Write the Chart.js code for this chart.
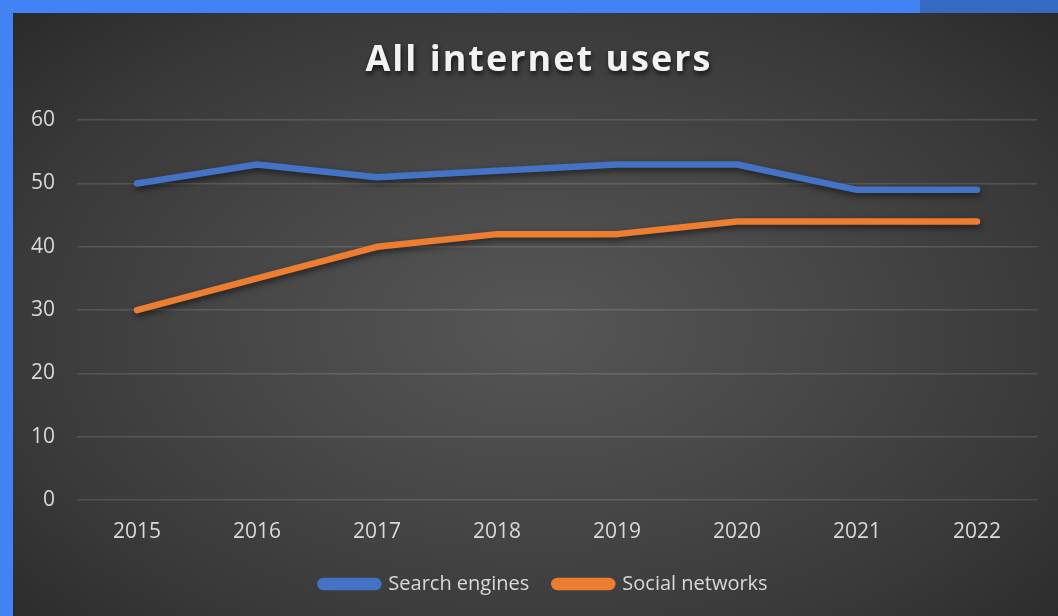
<!DOCTYPE html>
<html>
<head>
<meta charset="utf-8">
<script src="https://cdn.jsdelivr.net/npm/chart.js@4"></script>
<style>
  html, body { margin: 0; padding: 0; }
  body { width: 1058px; height: 616px; background: #4183F2; position: relative; overflow: hidden; }
  #corner { position: absolute; left: 920px; top: 0; width: 138px; height: 13px; background: #356AC2; }
  #panel {
    position: absolute; left: 13px; top: 13px; width: 1045px; height: 603px;
    background: radial-gradient(ellipse 75% 80% at 50% 52%, #565656 0%, #484848 35%, #383838 70%, #262626 100%);
  }
  #panel canvas { position: absolute; left: 0; top: 0; }
</style>
</head>
<body>
<div id="corner"></div>
<div id="panel"><canvas id="chart" width="1045" height="603"></canvas></div>
<script>
const years = ['2015', '2016', '2017', '2018', '2019', '2020', '2021', '2022'];
const searchEngines = [50, 53, 51, 52, 53, 53, 49, 49];
const socialNetworks = [30, 35, 40, 42, 42, 44, 44, 44];
const yTicks = [0, 10, 20, 30, 40, 50, 60];

const textColor = '#D9D9D9';
const fontFamily = "'Open Sans', 'Noto Sans', sans-serif";

// soft drop shadow under each series line
const lineShadow = {
  id: 'lineShadow',
  beforeDatasetDraw(chart) {
    const ctx = chart.ctx;
    ctx.save();
    ctx.shadowColor = 'rgba(0,0,0,0.55)';
    ctx.shadowBlur = 6;
    ctx.shadowOffsetX = 1;
    ctx.shadowOffsetY = 3;
  },
  afterDatasetDraw(chart) {
    chart.ctx.restore();
  }
};

// spaced-out title with a shadow behind the letters; legend nudged to sit centred under the plot
const boxStyle = {
  id: 'boxStyle',
  afterInit(chart) {
    const block = chart.titleBlock;
    if (block && !block._styled) {
      const orig = block.draw.bind(block);
      block.draw = function () {
        const ctx = chart.ctx;
        ctx.save();
        ctx.translate(14, 0);
        ctx.letterSpacing = '2px';
        ctx.shadowColor = 'rgba(0,0,0,0.7)';
        ctx.shadowBlur = 5;
        ctx.shadowOffsetX = 1;
        ctx.shadowOffsetY = 3;
        orig();
        ctx.restore();
      };
      block._styled = true;
    }
    const legend = chart.legend;
    if (legend && !legend._styled) {
      const origLegend = legend.draw.bind(legend);
      legend.draw = function () {
        const ctx = chart.ctx;
        ctx.save();
        ctx.translate(19, 0);
        origLegend();
        ctx.restore();
      };
      legend._styled = true;
    }
  }
};

new Chart(document.getElementById('chart'), {
  type: 'line',
  data: {
    labels: years,
    datasets: [
      {
        label: 'Search engines',
        data: searchEngines,
        borderColor: '#4472C4',
        backgroundColor: '#4472C4',
        borderWidth: 6.5,
        borderCapStyle: 'round',
        borderJoinStyle: 'round',
        pointRadius: 0,
        tension: 0
      },
      {
        label: 'Social networks',
        data: socialNetworks,
        borderColor: '#ED7D31',
        backgroundColor: '#ED7D31',
        borderWidth: 6.5,
        borderCapStyle: 'round',
        borderJoinStyle: 'round',
        pointRadius: 0,
        tension: 0
      }
    ]
  },
  options: {
    responsive: false,
    animation: false,
    layout: { padding: { left: 0, right: 21, top: 26, bottom: 12 } },
    plugins: {
      title: {
        display: true,
        text: 'All internet users',
        color: '#F2F2F2',
        font: { family: fontFamily, size: 36, weight: 'bold' },
        padding: { top: 0, bottom: 38 }
      },
      legend: {
        position: 'bottom',
        labels: {
          color: textColor,
          font: { family: fontFamily, size: 20 },
          boxWidth: 58,
          boxHeight: 6,
          useBorderRadius: true,
          borderRadius: 3,
          padding: 25
        }
      },
      tooltip: { enabled: false }
    },
    scales: {
      x: {
        offset: true,
        afterFit(scale) { scale.height = 49; },
        grid: { display: false, drawTicks: false },
        border: { display: false },
        ticks: { color: textColor, font: { family: fontFamily, size: 21 }, padding: 19 }
      },
      y: {
        min: 0,
        max: 60,
        afterBuildTicks(scale) { scale.ticks = yTicks.map(v => ({ value: v })); },
        afterFit(scale) { scale.width = 64; },
        grid: { color: 'rgba(255,255,255,0.13)', lineWidth: 1.5, drawTicks: false },
        border: { display: false },
        ticks: { color: textColor, font: { family: fontFamily, size: 21 }, padding: 22 }
      }
    }
  },
  plugins: [lineShadow, boxStyle]
});
</script>
</body>
</html>
